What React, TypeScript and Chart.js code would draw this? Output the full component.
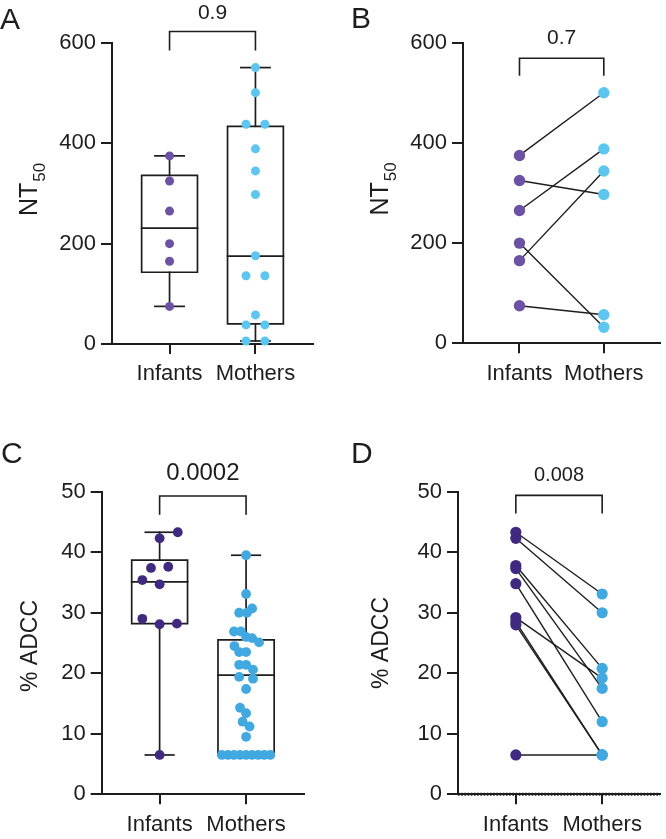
import React, { useEffect, useRef } from 'react';
import { Chart, registerables } from 'chart.js';
Chart.register(...registerables);

// ---------- data ----------
const categories = ['Infants', 'Mothers'];

// Panel A: NT50 (unpaired, box + points)
const nt50Infants = [375, 325, 265, 200, 165, 75];
const nt50InfantsJitter = [0, 0, 0, 0, 0, 0];
const nt50Mothers = [551, 501, 438, 438, 389, 345, 298, 176, 136, 136, 58, 38, 38, 6, 6];
const nt50MothersJitter = [0, 0, -0.11, 0.11, 0, 0, 0, 0, -0.11, 0.11, 0, -0.11, 0.11, -0.11, 0.11];
const nt50InfantsBox = [75, 143, 231, 336, 375]; // min, q1, median, q3, max
const nt50MothersBox = [6, 40, 175, 434, 551];

// Panel B: NT50 paired
const pairedNt50Infants = [375, 325, 265, 200, 165, 75];
const pairedNt50Mothers = [500, 297, 388, 32, 344, 57];

// Panel C: % ADCC (unpaired, box + points)
const adccInfants = [43.3, 42.3, 37.4, 37.6, 35.4, 34.7, 29.0, 28.1, 28.2, 6.5];
const adccInfantsJitter = [0.21, 0, -0.1, 0.1, -0.2, 0, -0.2, 0, 0.2, 0];
const adccMothers = [
  39.5, 33.1, 30.7, 30.0, 30.0, 26.9, 26.9, 26.0, 25.8, 25.1, 24.5, 23.5, 23.5,
  21.4, 21.4, 20.6, 19.4, 19.1, 17.4, 14.3, 13.4, 12.0, 11.2, 9.5,
  6.5, 6.5, 6.5, 6.5, 6.5, 6.5, 6.5, 6.5, 6.5,
];
const adccMothersJitter = [
  0, 0, 0.07, -0.08, 0.01, -0.14, -0.06, 0, 0.07, 0.15, -0.135, -0.08, 0,
  -0.08, 0, 0.08, -0.08, 0.08, 0, -0.07, 0, -0.04, 0.04, 0,
  -0.28, -0.21, -0.14, -0.07, 0, 0.07, 0.14, 0.21, 0.28,
];
const adccInfantsBox = [6.5, 28.2, 35.1, 38.7, 43.3];
const adccMothersBox = [6.5, 6.5, 19.7, 25.5, 39.5];

// Panel D: % ADCC paired
const pairedAdccInfants = [43.3, 42.3, 37.8, 37.3, 34.8, 29.2, 28.5, 28.0, 6.5];
const pairedAdccMothers = [33.1, 30.0, 20.8, 17.5, 12.0, 19.2, 6.5, 6.5, 6.5];

// tick labels
const nt50Ticks = [0, 200, 400, 600];
const adccTicks = [0, 10, 20, 30, 40, 50];
const pValues = ['0.9', '0.7', '0.0002', '0.008'];

// ---------- styles ----------
const FONT = '"Liberation Sans", Arial, Helvetica, sans-serif';
const INK = '#1d1d1d';
const PURPLE_LIGHT = '#6b52a4';
const BLUE_LIGHT = '#5cc6ef';
const PURPLE_DARK = '#3f2a7f';
const BLUE_DARK = '#42a8e0';

type Pt = { x: number; y: number };

function boxSegments(xc: number, box: number[], halfW: number, capW: number): Pt[][] {
  const [mn, q1, med, q3, mx] = box;
  return [
    [
      { x: xc - halfW, y: q1 }, { x: xc + halfW, y: q1 }, { x: xc + halfW, y: q3 },
      { x: xc - halfW, y: q3 }, { x: xc - halfW, y: q1 },
    ],
    [{ x: xc - halfW, y: med }, { x: xc + halfW, y: med }],
    [{ x: xc, y: q3 }, { x: xc, y: mx }],
    [{ x: xc - capW, y: mx }, { x: xc + capW, y: mx }],
    [{ x: xc, y: q1 }, { x: xc, y: mn }],
    [{ x: xc - capW, y: mn }, { x: xc + capW, y: mn }],
  ];
}

function bracket(top: number, leg: number): Pt[] {
  return [{ x: 1, y: leg }, { x: 1, y: top }, { x: 2, y: top }, { x: 2, y: leg }];
}

type Spec = {
  key: string;
  left: number; top: number; w: number; h: number;
  pad: { left: number; top: number; right: number; bottom: number };
  xh: number;
  ymax: number;
  yticks: number[];
  points: { data: Pt[]; color: string; r: number }[];
  lines: Pt[][];
  dotted?: boolean;
  bracketTop: number;
  bracketLeg: number;
  pText: string;
  pSize: number;
  pGap: number;
  title: string;
  titleSub?: string;
  titleSize: number;
  titleOffset: number;
  titleDy: number;
  letter: string;
  letterX: number;
  letterY: number;
};

function withJitter(center: number, values: number[], jitter: number[]): Pt[] {
  return values.map((v, i) => ({ x: center + jitter[i], y: v }));
}

function pairedLines(a: number[], b: number[]): Pt[][] {
  return a.map((v, i) => [{ x: 1, y: v }, { x: 2, y: b[i] }]);
}

const specs: Spec[] = [
  {
    key: 'A', left: 0, top: 0, w: 333, h: 415,
    pad: { left: 52, top: 43, right: 20, bottom: 21 }, xh: 50,
    ymax: 600, yticks: nt50Ticks,
    points: [
      { data: withJitter(1, nt50Infants, nt50InfantsJitter), color: PURPLE_LIGHT, r: 4.5 },
      { data: withJitter(2, nt50Mothers, nt50MothersJitter), color: BLUE_LIGHT, r: 4.5 },
    ],
    lines: [
      ...boxSegments(1, nt50InfantsBox, 0.325, 0.17),
      ...boxSegments(2, nt50MothersBox, 0.325, 0.17),
    ],
    bracketTop: 623, bracketLeg: 585,
    pText: pValues[0], pSize: 21, pGap: 12.4,
    title: 'NT', titleSub: '50', titleSize: 25, titleOffset: 75, titleDy: -4,
    letter: 'A', letterX: 0, letterY: 29,
  },
  {
    key: 'B', left: 333, top: 0, w: 333, h: 415,
    pad: { left: 70, top: 42.7, right: 1, bottom: 21.7 }, xh: 50,
    ymax: 600, yticks: nt50Ticks,
    points: [
      { data: pairedNt50Infants.map((v) => ({ x: 1, y: v })), color: PURPLE_LIGHT, r: 5.7 },
      { data: pairedNt50Mothers.map((v) => ({ x: 2, y: v })), color: BLUE_LIGHT, r: 5.7 },
    ],
    lines: pairedLines(pairedNt50Infants, pairedNt50Mothers),
    bracketTop: 569, bracketLeg: 534,
    pText: pValues[1], pSize: 21, pGap: 14,
    title: 'NT', titleSub: '50', titleSize: 25, titleOffset: 75, titleDy: -4,
    letter: 'B', letterX: 18, letterY: 28,
  },
  {
    key: 'C', left: 0, top: 415, w: 333, h: 424,
    pad: { left: 41.7, top: 76.7, right: 29, bottom: 4.7 }, xh: 40,
    ymax: 50, yticks: adccTicks,
    points: [
      { data: withJitter(1, adccInfants, adccInfantsJitter), color: PURPLE_DARK, r: 4.9 },
      { data: withJitter(2, adccMothers, adccMothersJitter), color: BLUE_DARK, r: 4.9 },
    ],
    lines: [
      ...boxSegments(1, adccInfantsBox, 0.323, 0.165),
      ...boxSegments(2, adccMothersBox, 0.325, 0.165),
    ],
    bracketTop: 49.3, bracketLeg: 46.2,
    pText: pValues[2], pSize: 24, pGap: 16,
    title: '% ADCC', titleSize: 23, titleOffset: 65, titleDy: 3,
    letter: 'C', letterX: 1, letterY: 48.3,
  },
  {
    key: 'D', left: 333, top: 415, w: 333, h: 424,
    pad: { left: 65, top: 76.7, right: 6, bottom: 4.7 }, xh: 40,
    ymax: 50, yticks: adccTicks,
    points: [
      { data: pairedAdccInfants.map((v) => ({ x: 1, y: v })), color: PURPLE_DARK, r: 5.6 },
      { data: pairedAdccMothers.map((v) => ({ x: 2, y: v })), color: BLUE_DARK, r: 5.6 },
    ],
    lines: pairedLines(pairedAdccInfants, pairedAdccMothers),
    dotted: true,
    bracketTop: 49.4, bracketLeg: 46.4,
    pText: pValues[3], pSize: 20, pGap: 14,
    title: '% ADCC', titleSize: 23, titleOffset: 70, titleDy: 0,
    letter: 'D', letterX: 18, letterY: 48.3,
  },
];

function annotationPlugin(spec: Spec) {
  return {
    id: 'annot' + spec.key,
    afterDraw(chart: any) {
      const ctx = chart.ctx as CanvasRenderingContext2D;
      const xs = chart.scales.x;
      const ys = chart.scales.y;
      const area = chart.chartArea;
      ctx.save();
      ctx.fillStyle = INK;
      // p value
      const xm = (xs.getPixelForValue(1) + xs.getPixelForValue(2)) / 2;
      const yb = ys.getPixelForValue(spec.bracketTop);
      ctx.font = `${spec.pSize}px ${FONT}`;
      ctx.textAlign = 'center';
      ctx.textBaseline = 'alphabetic';
      ctx.fillText(spec.pText, xm, yb - spec.pGap);
      // y-axis title
      const bx = area.left - spec.titleOffset;
      const cy = (area.top + area.bottom) / 2 + spec.titleDy;
      ctx.translate(bx, cy);
      ctx.rotate(-Math.PI / 2);
      ctx.textAlign = 'left';
      ctx.font = `${spec.titleSize}px ${FONT}`;
      const w1 = ctx.measureText(spec.title).width;
      let w2 = 0;
      const subSize = 17;
      if (spec.titleSub) {
        ctx.font = `${subSize}px ${FONT}`;
        w2 = ctx.measureText(spec.titleSub).width + 1;
      }
      const start = -(w1 + w2) / 2;
      ctx.font = `${spec.titleSize}px ${FONT}`;
      ctx.fillText(spec.title, start, 0);
      if (spec.titleSub) {
        ctx.font = `${subSize}px ${FONT}`;
        ctx.fillText(spec.titleSub, start + w1 + 1, 8);
      }
      ctx.setTransform(1, 0, 0, 1, 0, 0);
      // panel letter
      ctx.font = `30px ${FONT}`;
      ctx.textAlign = 'left';
      ctx.fillText(spec.letter, spec.letterX, spec.letterY);
      ctx.restore();
    },
  };
}

function buildConfig(spec: Spec): any {
  const datasets: any[] = [];
  spec.points.forEach((p) => {
    datasets.push({
      type: 'scatter',
      data: p.data,
      backgroundColor: p.color,
      borderWidth: 0,
      pointRadius: p.r,
      pointHoverRadius: p.r,
      clip: false,
      order: 0,
    });
  });
  const lineSet = (data: Pt[], order = 1, extra: any = {}) => ({
    type: 'scatter',
    showLine: true,
    data,
    borderColor: INK,
    borderWidth: 1.7,
    pointRadius: 0,
    pointHoverRadius: 0,
    clip: false,
    order,
    borderCapStyle: 'square',
    borderJoinStyle: 'miter',
    tension: 0,
    ...extra,
  });
  spec.lines.forEach((seg) => datasets.push(lineSet(seg, 1, spec.lines.length < 12 ? { borderWidth: 1.4, borderCapStyle: 'butt' } : {})));
  datasets.push(lineSet(bracket(spec.bracketTop, spec.bracketLeg), 1, { borderWidth: 1.6, borderCapStyle: 'butt' }));
  if (spec.dotted) {
    datasets.push(
      lineSet([{ x: 0.33, y: 0 }, { x: 2.67, y: 0 }], 2, {
        borderDash: [1.6, 1.6],
        borderWidth: 3,
        borderCapStyle: 'butt',
      })
    );
  }
  const tickFont = { family: FONT, size: 22 };
  return {
    type: 'scatter',
    data: { datasets },
    options: {
      animation: false,
      responsive: false,
      maintainAspectRatio: false,
      devicePixelRatio: 1,
      events: [],
      layout: { padding: spec.pad },
      plugins: { legend: { display: false }, tooltip: { enabled: false }, title: { display: false } },
      scales: {
        x: {
          type: 'linear',
          min: 0.33,
          max: 2.67,
          afterBuildTicks: (s: any) => {
            s.ticks = [{ value: 1 }, { value: 2 }];
          },
          afterFit: (s: any) => {
            s.height = spec.xh;
          },
          ticks: {
            callback: (v: number) => categories[Math.round(v) - 1],
            font: tickFont,
            color: INK,
            padding: 7,
            autoSkip: false,
            minRotation: 0,
            maxRotation: 0,
          },
          grid: { drawOnChartArea: false, drawTicks: true, tickLength: 10, color: INK, lineWidth: 2 },
          border: { display: true, color: INK, width: 2 },
        },
        y: {
          type: 'linear',
          min: 0,
          max: spec.ymax,
          afterBuildTicks: (s: any) => {
            s.ticks = spec.yticks.map((v) => ({ value: v }));
          },
          afterFit: (s: any) => {
            s.width = 60;
          },
          ticks: { font: tickFont, color: INK, padding: 5 },
          grid: { drawOnChartArea: false, drawTicks: true, tickLength: 11, color: INK, lineWidth: 2 },
          border: { display: true, color: INK, width: 2 },
        },
      },
    },
    plugins: [annotationPlugin(spec)],
  };
}

function Panel({ spec }: { spec: Spec }) {
  const ref = useRef<HTMLCanvasElement>(null);
  useEffect(() => {
    const chart = new Chart(ref.current as HTMLCanvasElement, buildConfig(spec));
    return () => chart.destroy();
  }, [spec]);
  return (
    <canvas
      ref={ref}
      width={spec.w}
      height={spec.h}
      style={{ position: 'absolute', left: spec.left, top: spec.top, width: spec.w, height: spec.h }}
    />
  );
}

export default function App() {
  return (
    <div
      style={{
        position: 'fixed',
        left: 0,
        top: 0,
        width: 666,
        height: 839,
        background: '#ffffff',
        overflow: 'hidden',
      }}
    >
      {specs.map((s) => (
        <Panel key={s.key} spec={s} />
      ))}
    </div>
  );
}
